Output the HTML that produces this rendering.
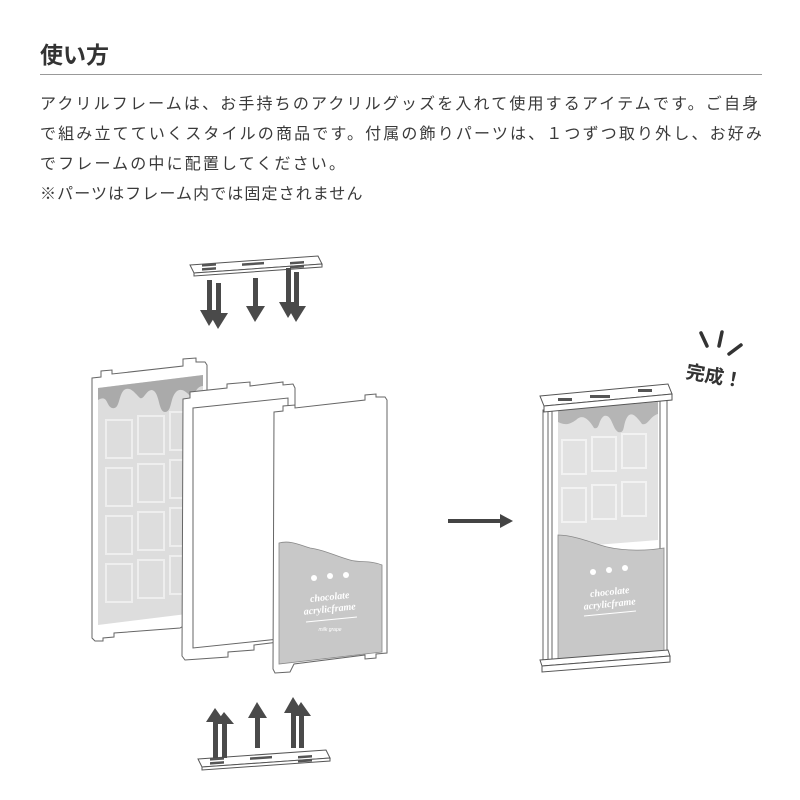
<!DOCTYPE html>
<html><head><meta charset="utf-8"><style>
body{margin:0;width:800px;height:800px;background:#fff;overflow:hidden;position:relative;font-family:"Liberation Sans","Noto Sans CJK JP",sans-serif;color:#333}
h1{position:absolute;left:40px;top:36px;margin:0;font-size:23px;font-weight:bold;color:#333}
.rule{position:absolute;left:40px;top:74px;width:722px;height:1px;background:#999}
.p{position:absolute;left:40px;top:90px;font-size:16px;line-height:30px;letter-spacing:2.15px;color:#3a3a3a;white-space:nowrap}
svg{position:absolute;left:0;top:0}
</style></head><body>
<h1>使い方</h1>
<div class="rule"></div>
<div class="p">アクリルフレームは、お手持ちのアクリルグッズを入れて使用するアイテムです。ご自身<br>で組み立てていくスタイルの商品です。付属の飾りパーツは、１つずつ取り外し、お好み<br>でフレームの中に配置してください。<br><span style="letter-spacing:1.1px">※パーツはフレーム内では固定されません</span></div>
<svg width="800" height="800" viewBox="0 0 800 800">
<defs>
<g id="plate">
<polygon points="0,9 128,0 132,8 4,17" fill="#fff" stroke="#555" stroke-width="1"/>
<polygon points="4,17 132,8 132,11 4,20" fill="#fff" stroke="#555" stroke-width="1"/>
<rect x="12" y="9" width="14" height="2.5" fill="#555" transform="skewY(-4)"/>
<rect x="12" y="13" width="14" height="2.5" fill="#555" transform="skewY(-4)"/>
<rect x="52" y="11" width="22" height="2.5" fill="#555" transform="skewY(-4)"/>
<rect x="100" y="13" width="14" height="2.5" fill="#555" transform="skewY(-4)"/>
<rect x="100" y="17" width="14" height="2.5" fill="#555" transform="skewY(-4)"/>
</g>
</defs>
<use href="#plate" x="190" y="256"/>
<g fill="#4a4a4a">
<polygon points="207,280 212,280 212,310 219,310 209,326 200,310 207,310"/>
<polygon points="216,283 221,283 221,313 228,313 218,329 209,313 216,313"/>
<polygon points="253,278 258,278 258,306 265,306 255,322 246,306 253,306"/>
<polygon points="286,268 291,268 291,302 298,302 288,318 279,302 286,302"/>
<polygon points="294,272 299,272 299,306 306,306 296,322 287,306 294,306"/>
</g>
<polygon points="92,378 101,377 101,371 112,370 112,374 183,366 183,359 196,358 196,362 205,362 207,365 207,612 180,628 114,633 114,637 103,638 103,641 95,641 92,638" fill="#fff" stroke="#666" stroke-width="1"/>
<path d="M98,388 L203,375 L203,612 L98,625 Z" fill="#ddd"/>
<path d="M98,388 L203,375 L203,386 C195,386 195,398 190,396 C185,390 180,388 176,392 C170,398 172,412 165,412 C158,412 160,392 152,390 C146,390 144,400 140,398 C134,392 130,386 124,390 C118,396 120,410 112,408 C106,406 108,394 98,400Z" fill="#aaa"/>
<g fill="none" stroke="#eee" stroke-width="2">
<rect x="106" y="420" width="26" height="38"/><rect x="138" y="416" width="26" height="38"/><rect x="170" y="412" width="26" height="38"/>
<rect x="106" y="468" width="26" height="38"/><rect x="138" y="464" width="26" height="38"/><rect x="170" y="460" width="26" height="38"/>
<rect x="106" y="516" width="26" height="38"/><rect x="138" y="512" width="26" height="38"/><rect x="170" y="508" width="26" height="38"/>
<rect x="106" y="564" width="26" height="38"/><rect x="138" y="560" width="26" height="38"/><rect x="170" y="556" width="26" height="38"/>
</g>
<polygon points="183,399 190,398 190,392 227,388 227,384 250,382 250,386 283,382 283,385 293,384 295,388 295,640 254,645 254,650 228,652 228,657 185,660 182,656" fill="#fff" stroke="#666" stroke-width="1"/>
<polygon points="193,408 288,398 288,638 193,648" fill="#fff" stroke="#666" stroke-width="1"/>
<polygon points="274,412 283,411 283,406 295,405 295,408 365,400 365,395 376,394 376,397 385,397 387,400 387,653 376,654 376,658 365,659 365,655 294,664 290,672 275,673 273,669" fill="#fff" stroke="#666" stroke-width="1"/>
<path d="M279,543 C290,540 300,545 310,548 C325,550 335,556 350,560 C360,563 370,560 382,565 L382,652 L279,664 Z" fill="#c8c8c8" stroke="#888" stroke-width="0.8"/>
<g fill="#fff"><circle cx="314" cy="578" r="3"/><circle cx="330" cy="576" r="3"/><circle cx="346" cy="575" r="3"/></g>
<text x="330" y="600" font-family="Liberation Serif,serif" font-style="italic" font-weight="bold" font-size="10" fill="#fff" text-anchor="middle" transform="rotate(-6 330 600)">chocolate</text>
<text x="330" y="612" font-family="Liberation Serif,serif" font-style="italic" font-weight="bold" font-size="10" fill="#fff" text-anchor="middle" transform="rotate(-6 330 612)">acrylicframe</text>
<line x1="306" y1="622" x2="357" y2="617" stroke="#fff"/>
<text x="330" y="631" font-size="5" fill="#fff" text-anchor="middle" font-style="italic">milk grape</text>
<use href="#plate" x="198" y="750"/>
<g fill="#4a4a4a">
<polygon points="213,758 218,758 218,722 225,722 215,708 206,722 213,722"/>
<polygon points="222,758 227,758 227,724 234,724 224,712 215,724 222,724"/>
<polygon points="255,748 260,748 260,718 267,718 257,702 248,718 255,718"/>
<polygon points="291,748 296,748 296,713 303,713 293,697 284,713 291,713"/>
<polygon points="299,748 304,748 304,716 311,716 301,702 292,716 299,716"/>
</g>
<line x1="448" y1="521" x2="502" y2="521" stroke="#444" stroke-width="4"/>
<polygon points="500,514 513,521 500,528" fill="#444"/>
<polygon points="543,410 667,400 667,655 543,667" fill="#fff" stroke="#666"/>
<line x1="548" y1="410" x2="548" y2="665" stroke="#666"/><line x1="552" y1="409" x2="552" y2="664" stroke="#666"/>
<line x1="660" y1="401" x2="660" y2="656" stroke="#666"/>
<path d="M558,410 L658,402 L658,540 L558,548 Z" fill="#e2e2e2"/>
<path d="M558,410 L658,402 L658,414 C650,416 648,426 642,424 C636,416 632,412 628,416 C622,424 626,434 618,432 C612,428 612,414 604,416 C598,420 600,430 594,428 C588,418 582,414 576,420 C570,424 566,426 558,422Z" fill="#b5b5b5"/>
<g fill="none" stroke="#f2f2f2" stroke-width="2">
<rect x="562" y="440" width="24" height="34"/><rect x="592" y="437" width="24" height="34"/><rect x="622" y="434" width="24" height="34"/>
<rect x="562" y="488" width="24" height="34"/><rect x="592" y="485" width="24" height="34"/><rect x="622" y="482" width="24" height="34"/>
</g>
<path d="M558,535 C570,535 585,540 600,545 C615,550 640,552 664,548 L664,652 L558,662 Z" fill="#c8c8c8" stroke="#888" stroke-width="0.8"/>
<g fill="#fff"><circle cx="593" cy="572" r="3"/><circle cx="609" cy="570" r="3"/><circle cx="625" cy="568" r="3"/></g>
<text x="610" y="595" font-family="Liberation Serif,serif" font-style="italic" font-weight="bold" font-size="10" fill="#fff" text-anchor="middle" transform="rotate(-6 610 595)">chocolate</text>
<text x="610" y="607" font-family="Liberation Serif,serif" font-style="italic" font-weight="bold" font-size="10" fill="#fff" text-anchor="middle" transform="rotate(-6 610 607)">acrylicframe</text>
<line x1="584" y1="616" x2="636" y2="611" stroke="#fff"/>
<polygon points="540,396 668,384 672,394 544,406" fill="#fff" stroke="#555"/>
<polygon points="544,406 672,394 672,400 544,412" fill="#fff" stroke="#555"/>
<rect x="558" y="398" width="14" height="3" fill="#555"/><rect x="590" y="395" width="20" height="3" fill="#555"/><rect x="638" y="389" width="14" height="3" fill="#555"/>
<polygon points="540,660 668,650 670,656 542,666" fill="#fff" stroke="#555"/>
<polygon points="542,666 670,656 670,662 542,672" fill="#fff" stroke="#555"/>
<g stroke="#333" stroke-width="3.5" stroke-linecap="round">
<line x1="701" y1="333" x2="707" y2="346"/><line x1="722" y1="332" x2="719" y2="346"/><line x1="741" y1="345" x2="729" y2="354"/>
</g>
<text x="686" y="382" font-size="19" font-weight="bold" fill="#333" transform="rotate(10 710 375)">完成！</text>
</svg>
</body></html>
